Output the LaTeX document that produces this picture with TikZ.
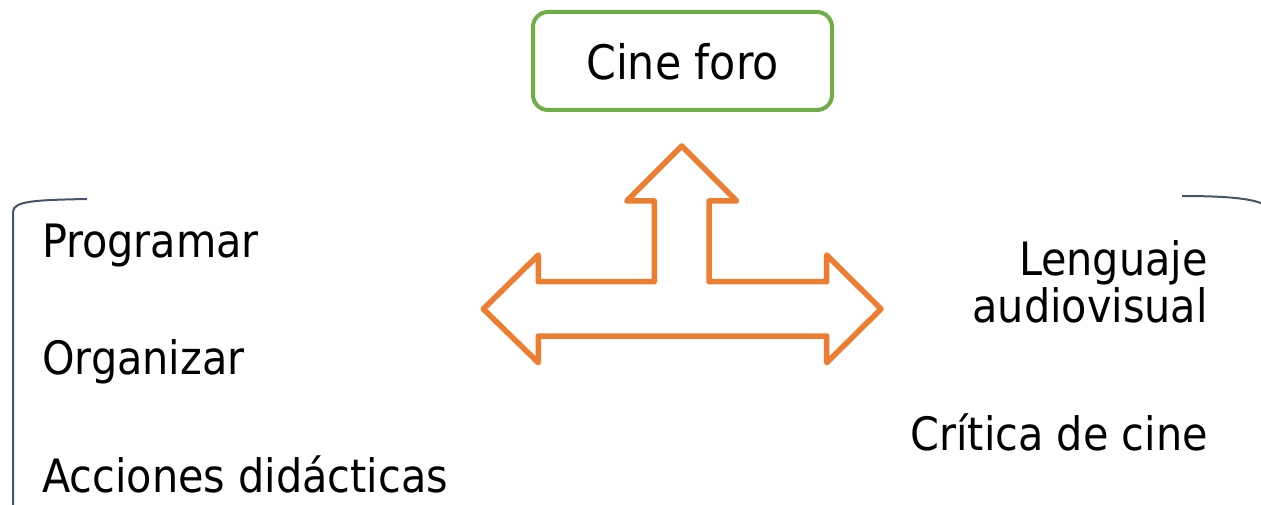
\documentclass[tikz,border=0pt]{standalone}
\usepackage{fontspec}
\setmainfont{DejaVu Sans Condensed}
\definecolor{orng}{HTML}{ED7D31}
\definecolor{grn}{HTML}{70AD47}
\definecolor{slate}{HTML}{44546A}
\tikzset{
  lbl/.style={inner sep=0pt, font=\fontsize{46}{49}\selectfont},
  topbox/.style={draw=grn, line width=4pt, rounded corners=15pt, minimum width=299pt, minimum height=98pt, inner sep=0pt},
  bigarrow/.style={draw=orng, line width=5.5pt, line join=round},
  brace/.style={draw=slate, line width=2pt}
}
\begin{document}
\begin{tikzpicture}[x=1pt,y=-1pt]
\useasboundingbox (0,0) rectangle (1261,505);
\clip (0,0) rectangle (1261,505);
\node[topbox] (cine) at (682.5,61) {};
\node[inner sep=0pt, font=\fontsize{47.5}{52}\selectfont, anchor=base] (cinetxt) at (682.5,80) {Cine foro};
\draw[bigarrow] (681.7,146) -- (736.7,201) -- (709,201) -- (709,281.7) -- (826.7,281.7) -- (826.7,255) -- (881,309) -- (826.7,362.7) -- (826.7,336) -- (538.3,336) -- (538.3,362.7) -- (483.3,309) -- (538.3,255) -- (538.3,281.7) -- (654.3,281.7) -- (654.3,201) -- (626.7,201) -- cycle;
\draw[brace] (87,199) .. controls (35,200) and (13,201) .. (13,212) -- (13,510);
\draw[brace] (1182,196) .. controls (1230,196) and (1262,199) .. (1268,208) -- (1268,510);
\node[lbl, anchor=base west] (p1) at (42,258) {Programar};
\node[lbl, anchor=base west] (p2) at (42,374) {Organizar};
\node[lbl, anchor=base west] (p3) at (42,492) {Acciones didácticas};
\node[lbl, anchor=base east] (q1) at (1208,275) {Lenguaje};
\node[lbl, anchor=base east] (q2) at (1208,322) {audiovisual};
\node[lbl, anchor=base east] (q3) at (1208,450) {Crítica de cine};
\end{tikzpicture}
\end{document}
